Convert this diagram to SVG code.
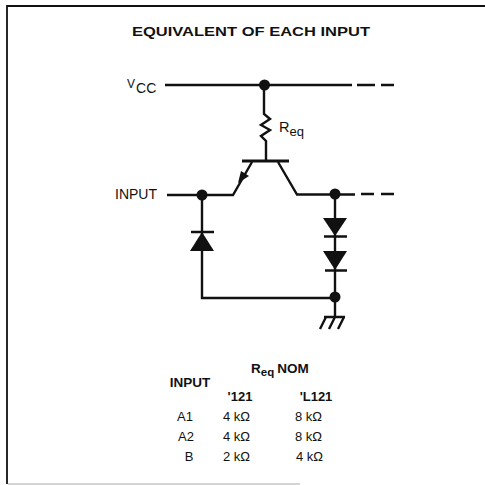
<svg xmlns="http://www.w3.org/2000/svg" width="485" height="485" viewBox="0 0 485 485">
<style>
.w{fill:none;stroke:#111;stroke-width:2.4}
.d{fill:#111;stroke:none}
text{font-family:"Liberation Sans",Arial,sans-serif;fill:#111}
.b{font-weight:bold}
.t{font-size:13px}
.h{font-size:13.5px}
</style>
<rect width="485" height="485" fill="#fff"/>
<path id="frame" d="M7 484V6H485" fill="none" stroke="#111" stroke-width="1.8"/>
<path d="M8 484H300" fill="none" stroke="#aaa" stroke-width="1"/>
<text class="b" x="251" y="35.500" text-anchor="middle" font-size="13.500" textLength="238" lengthAdjust="spacingAndGlyphs">EQUIVALENT OF EACH INPUT</text>
<g id="connectors">
<path class="w" d="M165 85H352M357 85H375M381 85H394"/>
<path class="w" d="M264 85V114L270 119L261 125L270 130L261 136L266 141V160"/>
<path class="w" d="M167 195H233L252 162"/>
<path class="w" d="M278 162L297 194.500H355M361 194H374M381 194H394"/>
<path class="w" d="M202 195V298H335"/>
<path class="w" d="M335 194V317"/>
</g>
<g id="transistor">
<path d="M242 161H289" fill="none" stroke="#111" stroke-width="3"/>
<path class="d" d="M238 183L249 176L241 171Z"/>
</g>
<g id="dot-vcc"><circle class="d" cx="264.500" cy="85" r="5.500"/></g>
<g id="dot-input"><circle class="d" cx="202" cy="195" r="5.500"/></g>
<g id="dot-output"><circle class="d" cx="335" cy="194" r="5.500"/></g>
<g id="dot-ground"><circle class="d" cx="335" cy="297" r="5.500"/></g>
<g id="diode-input"><path class="d" d="M202 232L190 251H214Z"/><path d="M191 232H214" stroke="#111" stroke-width="2.500"/></g>
<g id="diode-1"><path class="d" d="M323 218H347L335 236Z"/><path d="M324 236.500H347" stroke="#111" stroke-width="2.500"/></g>
<g id="diode-2"><path class="d" d="M323 251H347L335 270Z"/><path d="M325 270.500H347" stroke="#111" stroke-width="2.500"/></g>
<g id="ground"><path class="w" d="M324 317H345M320 329L326 317M329 329L335 317M338 329L344 317"/></g>
<g id="labels">
<text x="127" y="88" font-size="12">V<tspan font-size="14" dy="5" dx="1">CC</tspan></text>
<text x="115" y="199" font-size="14">INPUT</text>
<text x="279" y="132" font-size="14.500">R<tspan font-size="13" dy="4">eq</tspan></text>
</g>
<g id="table">
<text class="b h" x="190" y="387" text-anchor="middle">INPUT</text>
<text class="b" x="251" y="373" font-size="13.500">R<tspan font-size="11.500" dy="3">eq</tspan><tspan dy="-3" dx="3">NOM</tspan></text>
<text class="b t" x="240" y="401" text-anchor="middle">'121</text>
<text class="b t" x="316" y="401" text-anchor="middle">'L121</text>
<text class="t" x="185" y="421" text-anchor="middle">A1</text>
<text class="t" x="186" y="441" text-anchor="middle">A2</text>
<text class="t" x="189" y="461" text-anchor="middle">B</text>
<text class="t" x="223" y="421">4 kΩ</text>
<text class="t" x="223" y="441">4 kΩ</text>
<text class="t" x="223" y="461">2 kΩ</text>
<text class="t" x="295" y="421">8 kΩ</text>
<text class="t" x="295" y="441">8 kΩ</text>
<text class="t" x="296" y="461">4 kΩ</text>
</g>
</svg>
